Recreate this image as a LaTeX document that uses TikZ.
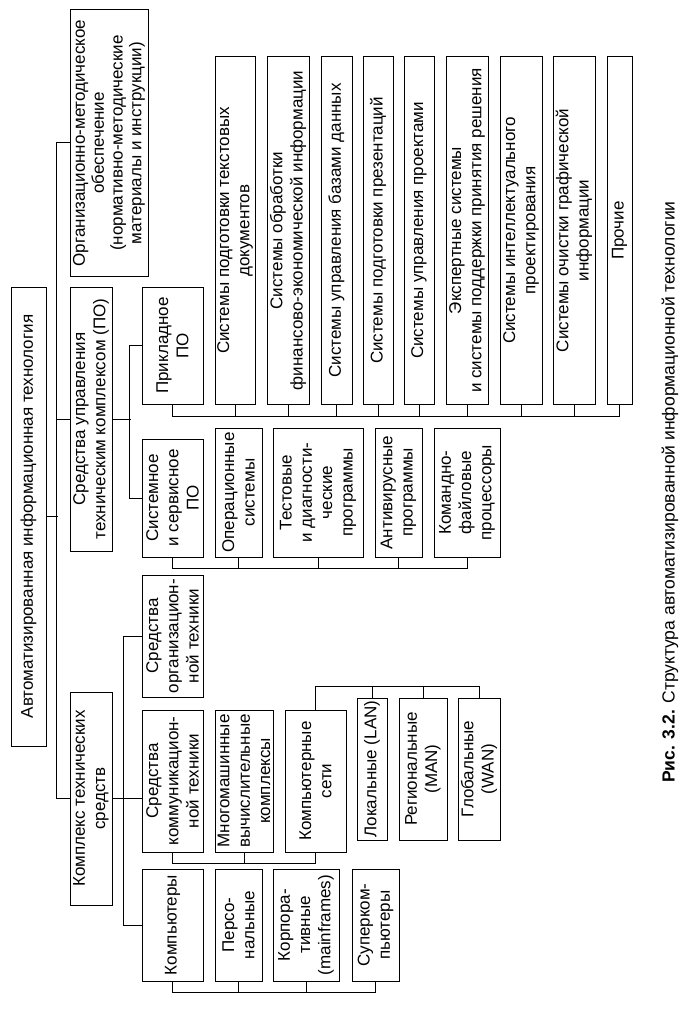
\documentclass[tikz,border=0pt]{standalone}
\usepackage{fontspec}
\setmainfont{Liberation Sans}
\begin{document}
\begin{tikzpicture}[x=1pt,y=-1pt,
  box/.style={draw, line width=1pt, rotate=90, inner sep=0pt, align=center,
    font=\fontsize{17}{20.3}\selectfont},
  conn/.style={line width=1pt}]
\newcommand\Bx[7][]{\node[box, minimum width={(#6-#5)*1pt}, minimum height={(#4-#3)*1pt}, #1] (#2) at ({(#3+#4)/2},{(#5+#6)/2}) {#7};}
\fill[white] (0,0) rectangle (694,1011);
\useasboundingbox (0,0) rectangle (694,1011);
% level 0
\Bx{root}{11}{46}{287}{746}{Автоматизированная информационная технология}
% level 1
\Bx[font=\fontsize{17}{18.8}\selectfont]{org}{70}{148}{10}{276}{Организационно-методическое\\обеспечение\\(нормативно-методические\\материалы и инструкции)}
\Bx{po}{70}{112}{287}{551}{Средства управления\\техническим комплексом (ПО)}
\Bx{kts}{70}{112}{692}{905}{Комплекс технических\\средств}
% level 2
\Bx{prik}{142}{203}{287}{404}{Прикладное\\ПО}
\Bx{sis}{142}{203}{439}{557}{Системное\\и сервисное\\ПО}
\Bx{sot}{142}{203}{575}{697}{Средства\\организацион-\\ной техники}
\Bx{skt}{142}{203}{710}{852}{Средства\\коммуникацион-\\ной техники}
\Bx{komp}{142}{203}{869}{981}{Компьютеры}
% computers
\Bx{pers}{215}{262}{869}{981}{Персо-\\нальные}
\Bx{korp}{273}{339}{869}{981}{Корпора-\\тивные\\(mainframes)}
\Bx{super}{352}{399}{869}{981}{Суперком-\\пьютеры}
% communication
\Bx{mnogo}{215}{273}{710}{852}{Многомашинные\\вычислительные\\комплексы}
\Bx{seti}{285}{346}{710}{852}{Компьютерные\\сети}
\Bx{lan}{357}{387}{698}{840}{Локальные (LAN)}
\Bx{man}{399}{447}{698}{840}{Региональные\\(MAN)}
\Bx{wan}{458}{500}{698}{840}{Глобальные\\(WAN)}
% system software
\Bx{os}{215}{262}{428}{557}{Операционные\\системы}
\Bx{test}{273}{363}{428}{557}{Тестовые\\и диагности-\\ческие\\программы}
\Bx{anti}{375}{422}{428}{557}{Антивирусные\\программы}
\Bx{kf}{434}{500}{428}{557}{Командно-\\файловые\\процессоры}
% application software
\Bx{a1}{215}{255}{57}{404}{Системы подготовки текстовых\\документов}
\Bx{a2}{267}{309}{57}{404}{Системы обработки\\финансово-экономической информации}
\Bx{a3}{321}{352}{57}{404}{Системы управления базами данных}
\Bx{a4}{363}{393}{57}{404}{Системы подготовки презентаций}
\Bx{a5}{404}{434}{57}{404}{Системы управления проектами}
\Bx{a6}{446}{488}{57}{404}{Экспертные системы\\и системы поддержки принятия решения}
\Bx{a7}{500}{542}{57}{404}{Системы интеллектуального\\проектирования}
\Bx{a8}{553}{595}{57}{404}{Системы очистки графической\\информации}
\Bx{a9}{607}{632}{57}{404}{Прочие}
% caption
\node[rotate=90, inner sep=0pt, font=\fontsize{17.5}{20}\selectfont] (cap) at (670,492)
  {\textbf{Рис. 3.2.} Структура автоматизированной информационной технологии};
% connectors
\begin{scope}[conn]
\draw (root.south) -- ++(11,0);
\draw (org.north) -- ++(-13,0) |- (kts.north);
\draw (po.north) -- ++(-13,0);
\draw (po.south) -- ++(18,0);
\draw (prik.north) -- ++(-12,0) |- (sis.north);
\draw (kts.south) -- (kts.south -| skt.north);
\draw (sot.north) -- ++(-18,0) |- (komp.north);
\draw (komp.west) -- ++(0,11) -| (super.west);
\draw (pers.west) -- ++(0,11);
\draw (korp.west) -- ++(0,11);
\draw (skt.west) -- ++(0,11) -| (seti.west);
\draw (mnogo.west) -- ++(0,11);
\draw (seti.east) -- ++(0,-23) -| (wan.east);
\draw (lan.east) -- ++(0,-11);
\draw (man.east) -- ++(0,-11);
\draw (sis.west) -- ++(0,11) -| (kf.west);
\draw (os.west) -- ++(0,11);
\draw (test.west) -- ++(0,11);
\draw (anti.west) -- ++(0,11);
\draw (prik.west) -- ++(0,12) -| (a9.west);
\foreach \n in {a1,a2,a3,a4,a5,a6,a7,a8} \draw (\n.west) -- ++(0,12);
\end{scope}
\end{tikzpicture}
\end{document}
